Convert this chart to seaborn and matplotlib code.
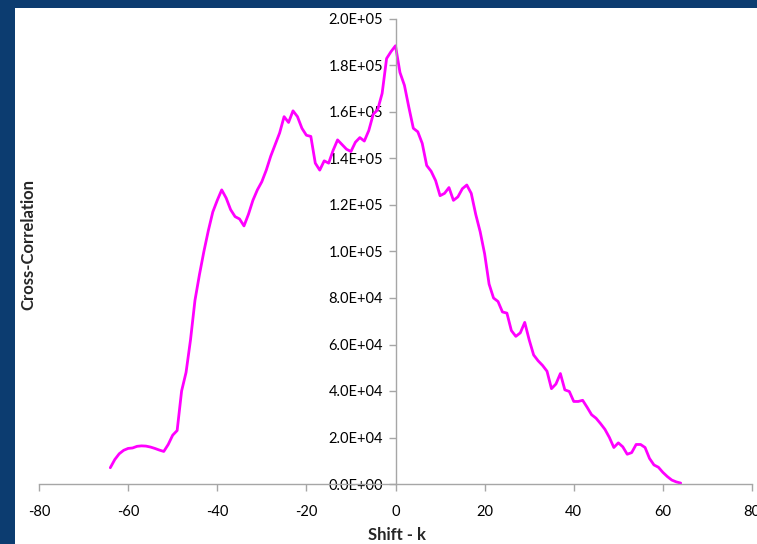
"""Cross-correlation vs shift, recreated with seaborn."""
import numpy as np
import pandas as pd
import matplotlib
matplotlib.use("Agg")
import matplotlib.pyplot as plt
import matplotlib.ticker as mticker
from matplotlib.patches import Rectangle
import seaborn as sns

# shift k from -64 to 64
shift = list(range(-64, 65))
xcorr = [
    7000, 10500, 13000, 14500, 15300, 15500, 16200, 16400, 16300, 15900,   # -64..-55
    15300, 14600, 14000, 17000, 21000, 23000, 40000, 48000, 62000, 79000,  # -54..-45
    90000, 100000, 109000, 117000, 122000, 126500, 123000, 118000, 115000, 114000,  # -44..-35
    111000, 116000, 122000, 126500, 130000, 135000, 141000, 146000, 151000, 158000,  # -34..-25
    155500, 160500, 158000, 153000, 150000, 149500, 138000, 135000, 139000, 138000,  # -24..-15
    143500, 148000, 146000, 144000, 143000, 147000, 149000, 147500, 152000, 159000,  # -14..-5
    161000, 168000, 183000, 186000, 188500, 177000, 171500, 162000, 153000, 151500,  # -4..5
    146500, 137000, 134500, 130500, 124000, 125000, 127500, 122000, 123500, 127000,  # 6..15
    128600, 125000, 116000, 108500, 99000, 86000, 80000, 78500, 74000, 73500,  # 16..25
    66000, 63500, 65000, 69500, 62000, 55500, 53000, 51000, 48500, 41000,  # 26..35
    43000, 47500, 40500, 39800, 35500, 35500, 36000, 33000, 29800, 28300,  # 36..45
    26000, 23500, 20000, 15700, 17700, 16000, 12800, 13500, 17000, 17000,  # 46..55
    15700, 11000, 8200, 7200, 5000, 3200, 1700, 900, 400,  # 56..64
]
x_ticks = [-80, -60, -40, -20, 0, 20, 40, 60, 80]
y_ticks = [0, 20000, 40000, 60000, 80000, 100000, 120000, 140000, 160000, 180000, 200000]

df = pd.DataFrame({"Shift - k": shift, "Cross-Correlation": xcorr})

sns.set_style("white")
plt.rcParams["font.family"] = ["Lato", "DejaVu Sans"]
plt.rcParams["axes.unicode_minus"] = False

fig = plt.figure(figsize=(7.57, 5.44), dpi=100)
fig.patch.set_facecolor("#0c3c70")
fig.patches.append(Rectangle((15 / 757, 0), 1, 1 - 8 / 544,
                             transform=fig.transFigure, facecolor="white",
                             edgecolor="none", zorder=-10))
ax = fig.add_axes([39 / 757, 1 - 484 / 544, 713 / 757, 465 / 544])
ax.set_facecolor("none")
ax.set_zorder(5)

sns.lineplot(data=df, x="Shift - k", y="Cross-Correlation", ax=ax,
             color="#ff00ff", linewidth=2.0)

ax.set_xlim(-80, 80)
ax.set_ylim(0, 200000)
ax.set_xticks(x_ticks)
ax.set_yticks(y_ticks)
ax.yaxis.set_major_formatter(mticker.FuncFormatter(
    lambda v, p: "{:.1E}".format(v)))

for s in ["top", "right"]:
    ax.spines[s].set_visible(False)
ax.spines["left"].set_position(("data", 0))
for s in ["left", "bottom"]:
    ax.spines[s].set_color("#a6a6a6")
    ax.spines[s].set_linewidth(1.0)

ax.tick_params(axis="x", direction="out", length=5, width=1, color="#a6a6a6",
               pad=10, labelsize=10.5, labelcolor="black")
ax.tick_params(axis="y", direction="out", length=5, width=1, color="#a6a6a6",
               pad=4, labelsize=10.5, labelcolor="black")
ax.xaxis.set_ticks_position("bottom")
ax.yaxis.set_ticks_position("left")

ax.set_xlabel("Shift - k", fontsize=12, fontweight="bold")
ax.set_ylabel("Cross-Correlation", fontsize=12, fontweight="bold")
ax.xaxis.set_label_coords(0.502, -0.093)
ax.yaxis.set_label_coords(-0.003, 0.514)

fig.savefig("out.png", dpi=100, facecolor=fig.get_facecolor())
